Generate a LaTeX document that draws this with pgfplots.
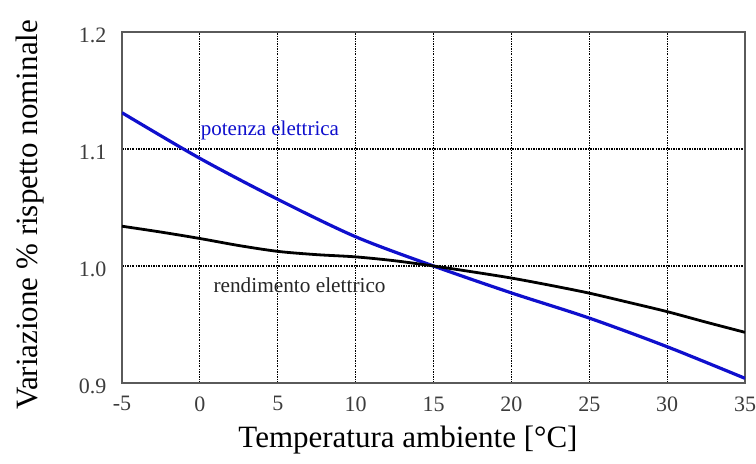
\documentclass[border=0pt]{standalone}
\usepackage{fontspec}
\setmainfont{Liberation Serif}
\usepackage{pgfplots}
\pgfplotsset{compat=1.18}
\usetikzlibrary{calc}
\definecolor{potblue}{RGB}{15,15,205}
\definecolor{axgray}{RGB}{90,90,90}
\definecolor{tickgray}{RGB}{60,60,60}
\begin{document}
\begin{tikzpicture}
\begin{axis}[
  scale only axis,
  width=623pt, height=351pt,
  xmin=-5, xmax=35, ymin=0.9, ymax=1.2,
  xtick={-5,0,5,10,15,20,25,30,35},
  ytick={0.9,1.0,1.1,1.2},
  yticklabels={0.9,1.0,1.1,1.2},
  /pgf/number format/assume math mode=true,
  tick label style={font=\fontsize{22}{26}\selectfont, text=tickgray},
  xticklabel style={yshift=-10pt},
  yticklabel style={xshift=-12pt, yshift=-3pt},
  major tick length=0pt,
  axis line style={axgray, line width=1.5pt},
  grid=major,
  major grid style={black, line width=1.1pt, dash pattern=on 2pt off 1.2pt on 0.8pt off 1.2pt},
  xlabel={Temperatura ambiente [°C]},
  ylabel={Variazione \% rispetto nominale},
  label style={font=\fontsize{31}{36}\selectfont},
  xlabel style={at={(axis description cs:0.459,-0.162)}, anchor=center},
  ylabel style={at={(axis description cs:-0.148,0.479)}, anchor=center},
  clip=true,
]
\addplot[potblue, line width=3.2pt, smooth] coordinates {
  (-5,1.131) (0,1.092) (5,1.057) (10,1.025) (15,1.000) (20,0.977) (25,0.9555) (30,0.931) (35,0.904)
};
\addplot[black, line width=2.8pt, smooth] coordinates {
  (-5,1.034) (-2.5,1.029) (0,1.0235) (2.5,1.0175) (5,1.0125) (7.5,1.0097) (10,1.0078) (12.5,1.0045) (15,1.000) (17.5,0.9950) (20,0.9897) (22.5,0.9835) (25,0.9768) (27.5,0.969) (30,0.961) (32.5,0.952) (35,0.9433)
};
\node[font=\fontsize{21}{25}\selectfont, text=potblue] at (axis cs:4.5,1.116) {potenza elettrica};
\node[font=\fontsize{21.3}{25}\selectfont, text=black!85] at (axis cs:6.4,0.984) {rendimento elettrico};
\end{axis}
\pgfresetboundingbox
\path ($(current axis.south west)+(-122pt,-80pt)$) rectangle ($(current axis.north east)+(11pt,32pt)$);
\end{tikzpicture}
\end{document}
